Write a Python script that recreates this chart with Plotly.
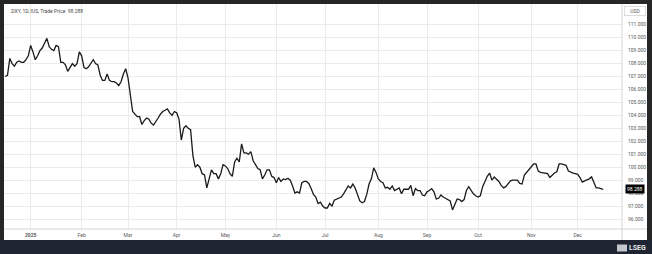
import pandas as pd
import plotly.graph_objects as go

# ---- data (DXY daily trade price) ----
holidays = ["2024-12-25", "2025-01-01", "2025-04-18", "2025-12-25"]

dec24 = [107.0, 107.1, 108.4, 108.0, 107.8, 108.1, 108.2, 108.1, 108.1, 108.3, 108.6]
jan25 = [109.4, 108.9, 108.3, 108.6, 109.0, 109.2, 109.6, 109.95, 109.3, 109.1, 109.0,
         109.4, 109.3, 108.1, 108.1, 107.9, 107.4, 107.7, 108.0, 107.8, 108.0, 108.9]
feb25 = [108.6, 107.7, 107.6, 107.75, 108.0, 108.3, 108.0, 107.9, 107.1, 106.7, 106.7,
         107.2, 106.7, 106.6, 106.6, 106.5, 106.3, 106.6, 107.2, 107.6]
mar25 = [106.9, 105.4, 104.3, 104.1, 103.9, 103.9, 103.3, 103.6, 103.8, 103.7, 103.4,
         103.25, 103.5, 103.8, 104.1, 104.3, 104.4, 104.5, 104.2, 104.0, 104.3]
apr25 = [104.2, 103.7, 102.1, 103.0, 103.2, 103.0, 102.9, 100.9, 100.0, 100.2, 100.0,
         99.5, 99.4, 98.4, 99.0, 99.8, 99.5, 99.5, 99.1, 99.5, 100.2]
may25 = [100.1, 99.9, 99.5, 99.3, 100.4, 100.7, 100.4, 101.8, 101.1, 101.1, 101.0,
         101.2, 100.5, 100.2, 99.9, 99.8, 99.1, 99.4, 99.8, 99.8, 99.3, 99.2]
jun25 = [98.8, 99.2, 98.9, 99.1, 99.05, 99.15, 99.0, 98.55, 98.0, 98.1, 98.0,
         98.8, 98.9, 98.9, 98.75, 98.35, 97.9, 97.7, 97.2, 97.3, 97.0]
jul25 = [96.85, 96.85, 97.2, 97.0, 97.45, 97.55, 97.6, 97.7, 97.95, 98.2, 98.55, 98.4,
         98.7, 98.4, 97.8, 97.4, 97.25, 97.35, 97.9, 98.7, 99.1, 99.95, 99.6]
aug25 = [99.1, 98.9, 98.8, 98.4, 98.45, 98.3, 98.55, 98.2, 98.3, 98.4, 97.95,
         98.3, 98.3, 98.3, 98.6, 97.8, 98.35, 98.2, 98.2, 97.85, 97.8]
sep25 = [98.1, 98.2, 98.35, 98.1, 97.55, 97.6, 97.85, 97.7, 97.6, 97.5, 97.4,
         96.7, 97.2, 97.55, 97.5, 97.35, 97.5, 98.2, 98.5, 98.2, 97.95, 97.8]
oct25 = [97.7, 97.8, 98.5, 98.9, 99.3, 99.55, 99.0, 99.25, 99.1, 98.9, 98.6, 98.4,
         98.5, 98.7, 98.95, 99.0, 99.0, 99.0, 98.75, 98.7, 99.4, 99.6, 99.8]
nov25 = [100.0, 100.25, 100.25, 99.7, 99.6, 99.55, 99.5, 99.5, 99.2, 99.4,
         99.55, 99.65, 100.25, 100.25, 100.2, 100.15, 99.7, 99.6, 99.55, 99.5]
dec25 = [99.45, 99.2, 98.85, 98.95, 99.0, 99.1, 99.25, 98.8, 98.4, 98.4, 98.35, 98.288]

month_starts = ["2024-12-16", "2025-01-01", "2025-02-01", "2025-03-01", "2025-04-01",
                "2025-05-01", "2025-06-01", "2025-07-01", "2025-08-01", "2025-09-01",
                "2025-10-01", "2025-11-01", "2025-12-01"]
month_values = [dec24, jan25, feb25, mar25, apr25, may25, jun25, jul25, aug25,
                sep25, oct25, nov25, dec25]

tick_dates = ["2025-01-02", "2025-02-03", "2025-03-03", "2025-04-01", "2025-05-01",
              "2025-06-02", "2025-07-01", "2025-08-01", "2025-09-01", "2025-10-01",
              "2025-11-03", "2025-12-01"]
tick_text = ["<b>2025</b>", "Feb", "Mar", "Apr", "May", "Jun", "Jul", "Aug", "Sep",
             "Oct", "Nov", "Dec"]
y_ticks = list(range(96, 112))
last_price = 98.288

# ---- build dates (trading days) ----
hol = set(pd.to_datetime(holidays))
dates, values = [], []
for ms, vals in zip(month_starts, month_values):
    start = pd.Timestamp(ms)
    end = start + pd.offsets.MonthEnd(0)
    days = [d for d in pd.bdate_range(start, end) if d not in hol]
    dates.extend(days[:len(vals)])
    values.extend(vals[:len(days)])

# ---- geometry helpers (pixels -> paper) ----
W, H = 652, 254
L, R, T, B = 4, 30, 4, 25
pw, ph = W - L - R, H - T - B


def px(x):
    return (x - L) / pw


def py(y):
    return 1 - (y - T) / ph


FONT = "Roboto, Liberation Sans, Arial, sans-serif"
GRID = "#ebebeb"
TXT = "#5a5a5a"

fig = go.Figure()
fig.add_trace(go.Scatter(x=dates, y=values, mode="lines",
                         line=dict(color="#1b1b1b", width=1.3),
                         hoverinfo="skip", showlegend=False))

shapes = [
    # bottom dark band
    dict(type="rect", xref="paper", yref="paper", x0=px(0), x1=px(W), y0=py(H), y1=py(240),
         fillcolor="#1e2431", line=dict(width=0), layer="below"),
    # white panel
    dict(type="rect", xref="paper", yref="paper", x0=px(4), x1=px(647), y0=py(240), y1=py(4),
         fillcolor="white", line=dict(width=0), layer="below"),
    # separators
    dict(type="line", xref="paper", yref="paper", x0=px(622), x1=px(622), y0=py(240), y1=py(4),
         line=dict(color="#d4d4d4", width=1)),
    dict(type="line", xref="paper", yref="paper", x0=px(4), x1=px(647), y0=py(229), y1=py(229),
         line=dict(color="#d4d4d4", width=1)),
    # logo emblem
    dict(type="rect", xref="paper", yref="paper", x0=px(617), x1=px(627), y0=py(251.5), y1=py(244.5),
         fillcolor="#c4c8ce", line=dict(width=0)),
]

annotations = [
    dict(text=".DXY, 1D, IUS, Trade Price  98.288", xref="paper", yref="paper",
         x=px(8), y=py(11.5), xanchor="left", yanchor="middle", showarrow=False,
         font=dict(size=5, color="#4a4a4a", family=FONT)),
    dict(text="USD", xref="paper", yref="paper", x=px(634.5), y=py(11), xanchor="center",
         yanchor="middle", showarrow=False, bordercolor="#dcdcdc", borderwidth=1,
         borderpad=1, width=18, font=dict(size=5, color=TXT, family=FONT)),
    dict(text=f"{last_price:.3f}", xref="paper", yref="y", x=px(624.5), y=last_price,
         xanchor="left", yanchor="middle", showarrow=False, bgcolor="#000000",
         borderpad=1, font=dict(size=5, color="white", family=FONT)),
    dict(text="<b>LSEG</b>", xref="paper", yref="paper", x=px(637), y=py(248),
         xanchor="center", yanchor="middle", showarrow=False,
         font=dict(size=7, color="#e8e8e8", family=FONT)),
]

fig.update_layout(
    width=W, height=H,
    margin=dict(l=L, r=R, t=T, b=B, pad=0),
    paper_bgcolor="#262626", plot_bgcolor="white",
    shapes=shapes, annotations=annotations,
    hovermode=False,
    font=dict(family=FONT, size=5, color=TXT),
    xaxis=dict(
        type="date",
        range=["2024-12-13 12:00", "2025-12-29 03:00"],
        rangebreaks=[dict(bounds=["sat", "mon"]), dict(values=holidays)],
        tickmode="array", tickvals=tick_dates, ticktext=tick_text,
        showgrid=True, gridcolor=GRID, gridwidth=1,
        ticks="", showline=False, zeroline=False,
        tickfont=dict(size=5, color=TXT, family=FONT),
        ticklabelstandoff=2,
    ),
    yaxis=dict(
        side="right",
        range=[95.23, 112.6],
        tickmode="array", tickvals=y_ticks, ticktext=[f"{v:.3f}" for v in y_ticks],
        showgrid=True, gridcolor=GRID, gridwidth=1,
        ticks="", showline=False, zeroline=False,
        tickfont=dict(size=5, color=TXT, family=FONT),
        ticklabelstandoff=5,
    ),
)

fig.write_html("out.html")
